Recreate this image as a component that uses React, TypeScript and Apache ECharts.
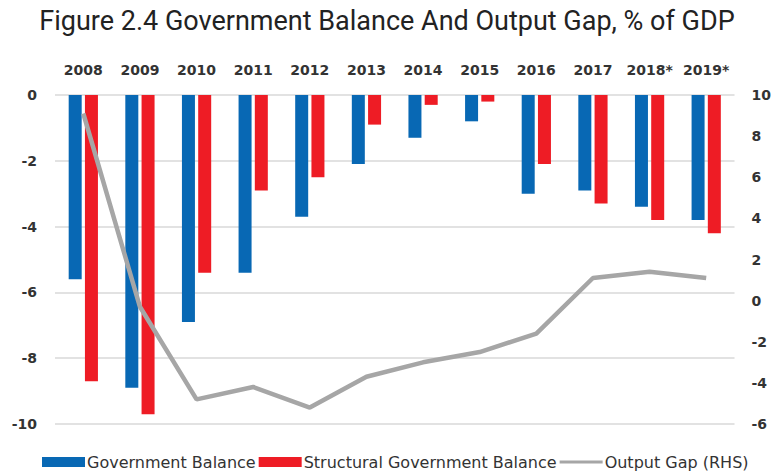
import React, { useEffect, useRef } from "react";
import * as echarts from "echarts";

const categories = ["2008", "2009", "2010", "2011", "2012", "2013", "2014", "2015", "2016", "2017", "2018*", "2019*"];
const governmentBalance = [-5.6, -8.9, -6.9, -5.4, -3.7, -2.1, -1.3, -0.8, -3.0, -2.9, -3.4, -3.8];
const structuralBalance = [-8.7, -9.7, -5.4, -2.9, -2.5, -0.9, -0.3, -0.2, -2.1, -3.3, -3.8, -4.2];
const outputGap = [9.1, -0.3, -4.8, -4.2, -5.2, -3.7, -3.0, -2.5, -1.6, 1.1, 1.4, 1.1];

const lineIcon = "path://M0,0 L43,0 L43,0 Z M0,3.5 L43,3.5 L43,6.5 L0,6.5 Z M0,10 L43,10 L43,10 Z";

export default function App() {
  const ref = useRef<HTMLDivElement>(null);
  useEffect(() => {
    if (!ref.current) return;
    const chart = echarts.init(ref.current, null, { renderer: "svg" });
    const axisFont = { fontFamily: "DejaVu Sans", fontWeight: "bold" as const, fontSize: 14, color: "#333333" };
    chart.setOption({
      animation: false,
      backgroundColor: "#ffffff",
      title: {
        text: "Figure 2.4 Government Balance And Output Gap, % of GDP",
        left: "center",
        top: 2,
        textStyle: { fontFamily: "Roboto", fontWeight: "normal", fontSize: 27, color: "#222222" },
      },
      legend: {
        bottom: 3,
        left: 42,
        width: 732,
        padding: 0,
        itemWidth: 43,
        itemHeight: 10,
        itemGap: 3,
        textStyle: { fontFamily: "DejaVu Sans", fontSize: 16, color: "#333333", padding: [0, 0, 0, -3] },
        data: [
          { name: "Government Balance", icon: "rect" },
          { name: "Structural Government Balance", icon: "rect" },
          { name: "Output Gap (RHS)", icon: lineIcon, itemStyle: { color: "#A6A6A6" } },
        ],
      },
      grid: { left: 55, right: 39, top: 95, bottom: 49 },
      xAxis: {
        type: "category",
        data: categories,
        position: "top",
        axisLine: { show: false },
        axisTick: { show: false },
        axisLabel: { ...axisFont, margin: 18, interval: 0 },
      },
      yAxis: [
        {
          type: "value",
          min: -10,
          max: 0,
          interval: 2,
          axisLine: { show: false },
          axisTick: { show: false },
          axisLabel: { ...axisFont, margin: 18 },
          splitLine: { lineStyle: { color: "#d9d9d9", width: 1.5 } },
        },
        {
          type: "value",
          min: -6,
          max: 10,
          interval: 2,
          axisLine: { show: false },
          axisTick: { show: false },
          axisLabel: { ...axisFont, margin: 17 },
          splitLine: { show: false },
        },
      ],
      series: [
        {
          name: "Government Balance",
          type: "bar",
          data: governmentBalance,
          barWidth: 13,
          barGap: "25%",
          itemStyle: { color: "#0868B4" },
        },
        {
          name: "Structural Government Balance",
          type: "bar",
          data: structuralBalance,
          barWidth: 13,
          itemStyle: { color: "#EE1C25" },
        },
        {
          name: "Output Gap (RHS)",
          type: "line",
          yAxisIndex: 1,
          data: outputGap,
          symbol: "none",
          lineStyle: { color: "#A6A6A6", width: 4.5 },
          itemStyle: { color: "#A6A6A6" },
        },
      ],
    });
    return () => chart.dispose();
  }, []);
  return <div ref={ref} style={{ width: 774, height: 473, position: "absolute", left: 0, top: 0 }} />;
}
